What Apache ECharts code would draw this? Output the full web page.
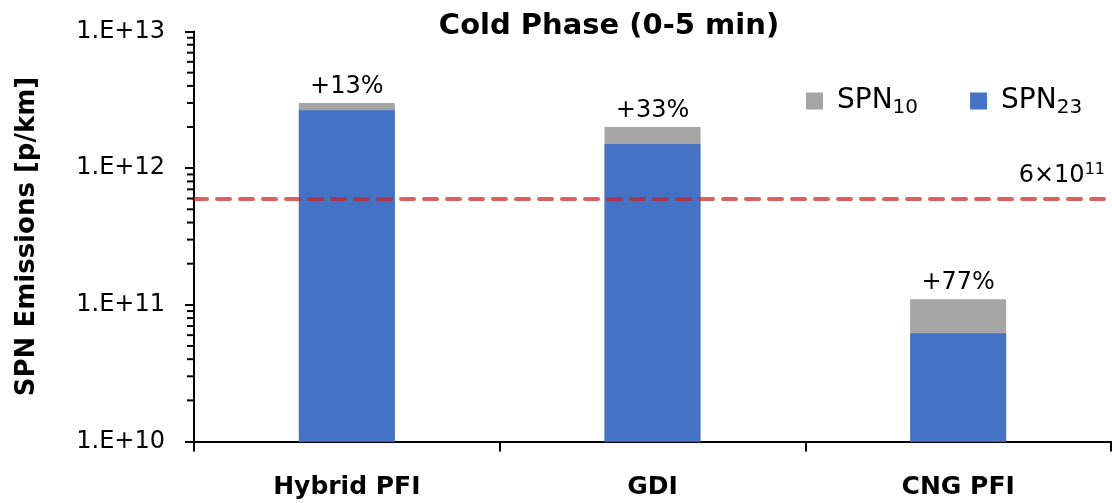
<!DOCTYPE html>
<html>
<head>
<meta charset="utf-8">
<script src="https://cdn.jsdelivr.net/npm/echarts@6/dist/echarts.min.js"></script>
<style>
html,body{margin:0;padding:0;background:#fff;}
#chart{width:1112px;height:503px;}
</style>
</head>
<body>
<div id="chart"></div>
<script>
var categories = ['Hybrid PFI', 'GDI', 'CNG PFI'];
var spn23 = [2.65e12, 1.5e12, 6.2e10];
var spn10 = [3.0e12, 2.0e12, 1.1e11];
var barLabels = ['+13%', '+33%', '+77%'];
var yTickValues = [1e10, 1e11, 1e12, 1e13];
var yTickLabels = ['1.E+10', '1.E+11', '1.E+12', '1.E+13'];
var minorTickValues = [
  2e10, 3e10, 4e10, 5e10, 6e10, 7e10, 8e10, 9e10,
  2e11, 3e11, 4e11, 5e11, 6e11, 7e11, 8e11, 9e11,
  2e12, 3e12, 4e12, 5e12, 6e12, 7e12, 8e12, 9e12
];
var limitValue = 6e11;

var FONT = '"DejaVu Sans", sans-serif';
var chart = echarts.init(document.getElementById('chart'), null, {renderer: 'canvas'});

var option = {
  animation: false,
  backgroundColor: '#ffffff',
  textStyle: {fontFamily: FONT, color: '#000'},
  title: {
    text: 'Cold Phase (0-5 min)',
    left: 604, top: 7, textAlign: 'center',
    textStyle: {fontFamily: FONT, fontSize: 29, fontWeight: 'bold', color: '#000'}
  },
  legend: {
    data: ['SPN10', 'SPN23'],
    left: 806, top: 87, padding: 0,
    icon: 'rect', itemWidth: 17, itemHeight: 17, itemGap: 52,
    formatter: function (name) { return '{main|SPN}{sub|' + name.slice(3) + '}'; },
    textStyle: {
      fontFamily: FONT, fontSize: 28, color: '#000', padding: [0, 0, 0, 9],
      rich: {
        main: {fontFamily: FONT, fontSize: 28, color: '#000'},
        sub: {fontFamily: FONT, fontSize: 20, color: '#000', padding: [13, 0, 0, 0]}
      }
    }
  },
  grid: {left: 194, right: 1, top: 31.5, bottom: 61.5, containLabel: false},
  xAxis: {
    type: 'category',
    data: categories,
    boundaryGap: true,
    axisLine: {lineStyle: {color: '#000', width: 2}},
    axisTick: {show: true, length: 10, lineStyle: {color: '#000', width: 2}},
    axisLabel: {fontFamily: FONT, fontSize: 25, fontWeight: 'bold', color: '#000', margin: 33}
  },
  yAxis: {
    type: 'log', logBase: 10, min: 1e10, max: 1e13,
    name: 'SPN Emissions [p/km]',
    nameLocation: 'middle', nameGap: 154, nameRotate: 90,
    nameTextStyle: {fontFamily: FONT, fontSize: 26, fontWeight: 'bold', color: '#000'},
    axisLine: {show: true, lineStyle: {color: '#000', width: 2}},
    axisTick: {show: true, length: 9, lineStyle: {color: '#000', width: 2}},
    splitLine: {show: false},
    axisLabel: {
      fontFamily: FONT, fontSize: 24, color: '#000', margin: 29,
      formatter: function (v) {
        var i = yTickValues.findIndex(function (t) { return Math.abs(Math.log10(t) - Math.log10(v)) < 1e-6; });
        return i >= 0 ? yTickLabels[i] : '';
      }
    }
  },
  series: [
    {
      name: 'SPN10', type: 'bar', data: spn10, barWidth: 96, barGap: '-100%',
      itemStyle: {color: '#a5a5a5'},
      label: {
        show: true, position: 'top', distance: 4,
        fontFamily: FONT, fontSize: 24, color: '#000',
        formatter: function (p) { return barLabels[p.dataIndex]; }
      }
    },
    {
      name: 'SPN23', type: 'bar', data: spn23, barWidth: 96, barGap: '-100%',
      itemStyle: {color: '#4472c4'},
      markLine: {
        silent: true, symbol: ['none', 'none'],
        lineStyle: {color: 'rgba(205,35,35,0.72)', width: 4, type: [13, 10], cap: 'round'},
        label: {
          show: true, position: 'insideEndTop', distance: [6, 9],
          fontFamily: FONT, fontSize: 24, color: '#000',
          formatter: '{m|6×10}{sup|11}',
          rich: {
            m: {fontFamily: FONT, fontSize: 24, color: '#000'},
            sup: {fontFamily: FONT, fontSize: 16, color: '#000', padding: [0, 0, 12, 0]}
          }
        },
        data: [{yAxis: limitValue}]
      }
    },
    {
      name: 'minorTicks', type: 'custom', silent: true, clip: false, z: 5,
      data: minorTickValues.map(function (v) { return [0, v]; }),
      renderItem: function (params, api) {
        var y = api.coord([0, api.value(1)])[1];
        var x0 = params.coordSys.x;
        return {
          type: 'line',
          shape: {x1: x0 - 7, y1: y, x2: x0, y2: y},
          style: {stroke: '#000', lineWidth: 2}
        };
      }
    }
  ]
};
chart.setOption(option);
</script>
</body>
</html>
